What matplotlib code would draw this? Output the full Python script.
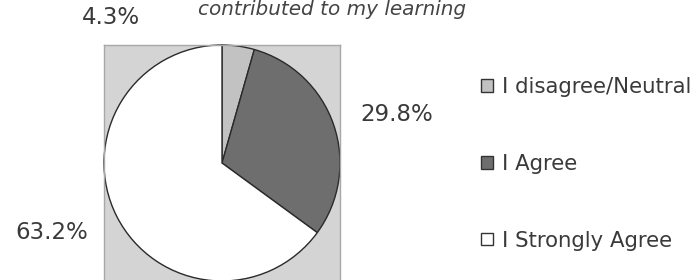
import matplotlib
matplotlib.use("Agg")
import matplotlib.pyplot as plt
from matplotlib.patches import Patch

categories = ["I disagree/Neutral", "I Agree", "I Strongly Agree"]
values = [4.3, 29.8, 63.2]
pct_labels = ["4.3%", "29.8%", "63.2%"]
colors = ["#c2c2c2", "#6e6e6e", "#ffffff"]
title = "contributed to my learning"

plt.rcParams['font.family'] = ['DejaVu Sans']

fig = plt.figure(figsize=(7, 2.8), dpi=100)
ax = fig.add_axes([104/700, -1/280, 236/700, 236/280])
ax.set_facecolor("#d4d4d4")

wedges, texts = ax.pie(values, labels=pct_labels, colors=colors, startangle=90,
                       counterclock=False, labeldistance=1.55, frame=True,
                       wedgeprops=dict(edgecolor="#2a2a2a", linewidth=1.0),
                       textprops=dict(fontsize=16.5, color="#3a3a3a"))
# label placement (data units, pie radius = 1)
label_pos = [(-0.94, 1.23), (1.48, 0.41), (-1.44, -0.59)]
for t, p in zip(texts, label_pos):
    t.set_ha("center")
    t.set_va("center")
    t.set_position(p)

ax.set_xlim(-1, 1)
ax.set_ylim(-1, 1)
ax.set_aspect("equal")
ax.set_xticks([])
ax.set_yticks([])
for s in ax.spines.values():
    s.set_color("#a8a8a8")
    s.set_linewidth(1.0)

fig.text(332/700, 1 - 15/280, title, ha="center", va="baseline",
         fontsize=14.4, style="italic", color="#444444")

handles = [Patch(facecolor=c, edgecolor="#333333", linewidth=1.0) for c in colors]
fig.legend(handles, categories, loc="center left",
           bbox_to_anchor=(481/700, 1 - 164/280), frameon=False,
           fontsize=15.3, labelcolor="#3a3a3a", handlelength=0.56, handleheight=0.56,
           handletextpad=0.45, labelspacing=2.66, borderaxespad=0, borderpad=0)

fig.savefig("out.png", dpi=100)
